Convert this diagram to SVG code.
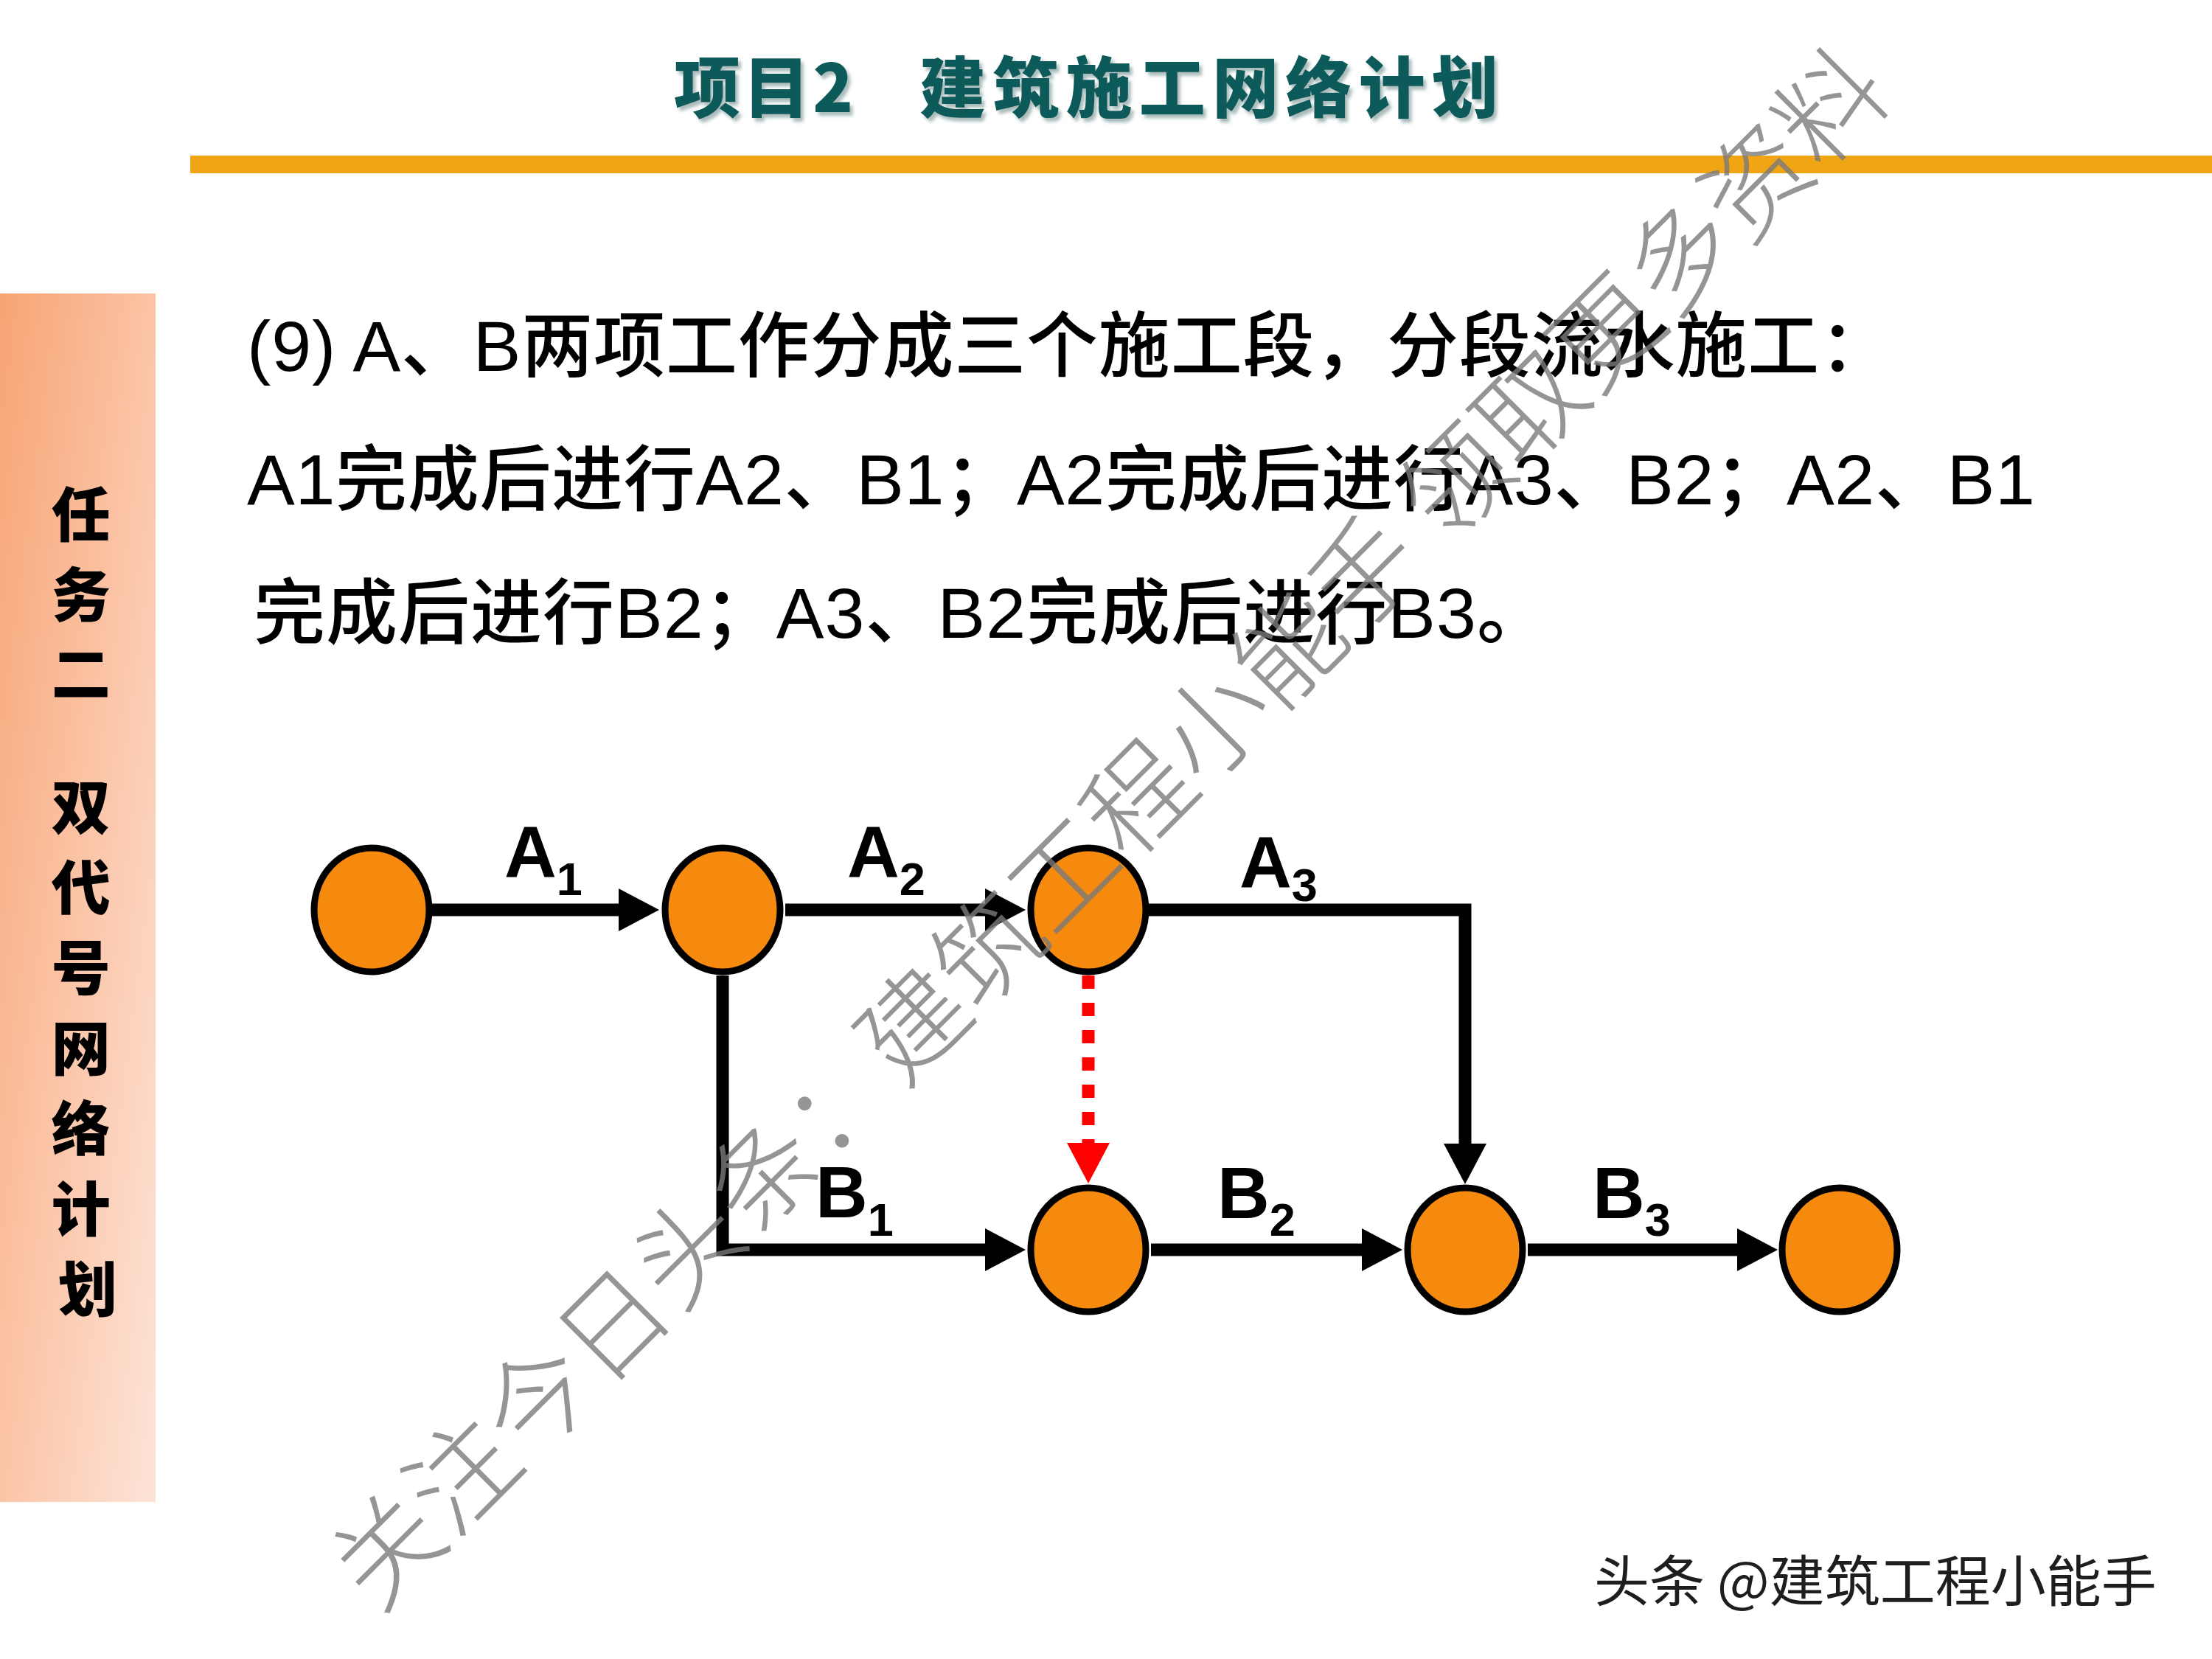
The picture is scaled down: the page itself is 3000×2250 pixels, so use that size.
<svg xmlns="http://www.w3.org/2000/svg" width="3000" height="2250" viewBox="0 0 3000 2250">
<defs>
<style>
.body{font-family:"Liberation Sans","Noto Sans CJK SC",sans-serif;font-size:97px;font-weight:500;fill:#000;}
.side{font-family:"Noto Sans CJK SC",sans-serif;font-size:80px;font-weight:900;fill:#000;text-anchor:middle;}
.title{font-family:"Noto Sans CJK SC",sans-serif;font-size:90px;font-weight:900;fill:#0c5a5a;}
.lbl{font-family:"Liberation Sans",Arial,sans-serif;font-size:98px;font-weight:bold;fill:#000;}
.node{fill:#f58a0e;stroke:#000;stroke-width:9;}
.edge{fill:none;stroke:#000;stroke-width:17;stroke-linejoin:miter;}
.dummy{fill:none;stroke:#ff0000;stroke-width:17;stroke-dasharray:18 19;}
.wm{font-family:"Noto Sans CJK SC",sans-serif;font-size:144px;font-weight:300;fill:#7a7a7a;fill-opacity:0.8;}
.sign{font-family:"Noto Sans CJK SC",sans-serif;font-size:75px;fill:#1e1e1e;}
</style>
<linearGradient id="sideg" x1="0" y1="0" x2="1" y2="1">
<stop offset="0" stop-color="#f7a474"/>
<stop offset="0.5" stop-color="#fbc4a6"/>
<stop offset="1" stop-color="#fde4d8"/>
</linearGradient>
<filter id="sh" x="-5%" y="-20%" width="110%" height="140%">
<feDropShadow dx="4" dy="5" stdDeviation="2" flood-color="#6f8f8f" flood-opacity="0.6"/>
</filter>
<marker id="ah" markerUnits="userSpaceOnUse" markerWidth="56" markerHeight="58" refX="1" refY="29" orient="auto">
<path d="M0,0 L55,29 L0,58 Z" fill="#000"/>
</marker>
<marker id="ahr" markerUnits="userSpaceOnUse" markerWidth="56" markerHeight="58" refX="1" refY="29" orient="auto">
<path d="M0,0 L55,29 L0,58 Z" fill="#ff0000"/>
</marker>
</defs>
<rect width="3000" height="2250" fill="#fff"/>

<g id="header">
<text class="title" x="914" y="152" textLength="243" lengthAdjust="spacing" filter="url(#sh)">项目2</text>
<text class="title" x="1247" y="152" textLength="785" lengthAdjust="spacing" filter="url(#sh)">建筑施工网络计划</text>
<rect x="258" y="211" width="2742" height="24" fill="#f0a514"/>
</g>

<g id="sidebar">
<rect x="0" y="398" width="211" height="1639" fill="url(#sideg)"/>
<text class="side">
<tspan x="119" y="727">任</tspan>
<tspan x="119" y="836">务</tspan>
<tspan x="119" y="943">二</tspan>
<tspan x="119" y="1124">双</tspan>
<tspan x="119" y="1233">代</tspan>
<tspan x="119" y="1342">号</tspan>
<tspan x="119" y="1451">网</tspan>
<tspan x="119" y="1560">络</tspan>
<tspan x="119" y="1669">计</tspan>
<tspan x="119" y="1778">划</tspan>
</text>
</g>

<g id="description">
<text class="body" x="335" y="503" textLength="2230" lengthAdjust="spacing">(9) A、B两项工作分成三个施工段，分段流水施工：</text>
<text class="body" x="335" y="684" textLength="2425" lengthAdjust="spacing">A1完成后进行A2、B1；A2完成后进行A3、B2；A2、B1</text>
<text class="body" x="344" y="865" textLength="1756" lengthAdjust="spacing">完成后进行B2；A3、B2完成后进行B3。</text>
</g>

<g id="connectors">
<path id="e-A1" class="edge" d="M586,1234 H840" marker-end="url(#ah)"/>
<path id="e-A2" class="edge" d="M1065,1234 H1337" marker-end="url(#ah)"/>
<path id="e-B1" class="edge" d="M980,1323 V1695 H1337" marker-end="url(#ah)"/>
<path id="e-A3" class="edge" d="M1558,1234 H1987 V1552" marker-end="url(#ah)"/>
<path id="e-B2" class="edge" d="M1561,1695 H1848" marker-end="url(#ah)"/>
<path id="e-B3" class="edge" d="M2072,1695 H2357" marker-end="url(#ah)"/>
<path id="e-dummy" class="dummy" d="M1476,1323 V1551" marker-end="url(#ahr)"/>
</g>

<g id="edge-labels">
<text class="lbl" x="684" y="1189">A<tspan font-size="63" dy="25">1</tspan></text>
<text class="lbl" x="1149" y="1189">A<tspan font-size="63" dy="25">2</tspan></text>
<text class="lbl" x="1106" y="1651">B<tspan font-size="63" dy="25">1</tspan></text>
<text class="lbl" x="1681" y="1203">A<tspan font-size="63" dy="19">3</tspan></text>
<text class="lbl" x="1651" y="1652">B<tspan font-size="63" dy="24">2</tspan></text>
<text class="lbl" x="2160" y="1652">B<tspan font-size="63" dy="24">3</tspan></text>
</g>

<g id="n1"><ellipse class="node" cx="504" cy="1234" rx="78" ry="84"/></g>
<g id="n2"><ellipse class="node" cx="980" cy="1234" rx="78" ry="84"/></g>
<g id="n3"><ellipse class="node" cx="1476" cy="1234" rx="78" ry="84"/></g>
<g id="n4"><ellipse class="node" cx="1476" cy="1695" rx="78" ry="84"/></g>
<g id="n5"><ellipse class="node" cx="1987" cy="1695" rx="78" ry="84"/></g>
<g id="n6"><ellipse class="node" cx="2495" cy="1695" rx="78" ry="84"/></g>

<g id="watermark">
<text class="wm" transform="translate(1506,1125) rotate(-45)" x="0" y="50" text-anchor="middle">关注今日头条：建筑工程小能手 领取更多资料</text>
</g>

<g id="signature">
<text class="sign" x="2162" y="2172">头条 @建筑工程小能手</text>
</g>
</svg>
